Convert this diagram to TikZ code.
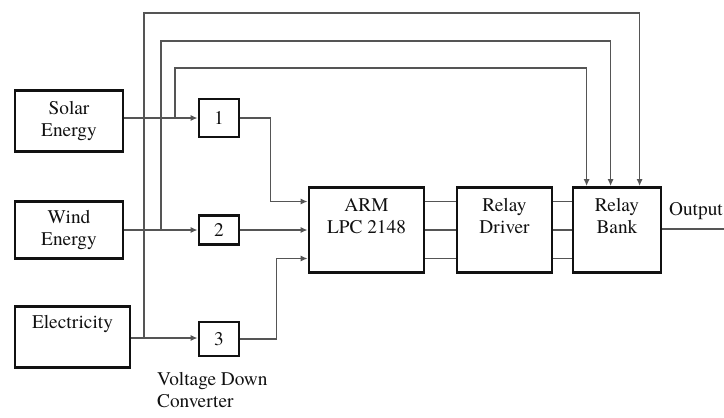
\documentclass[tikz,border=0pt]{standalone}
\usepackage{fontspec}
\setmainfont{TeX Gyre Termes}[Scale=1.0]
\usetikzlibrary{arrows.meta, positioning, calc}
\definecolor{ink}{HTML}{111111}
\definecolor{wire}{HTML}{555555}
\tikzset{
  font=\rmfamily\fontsize{11}{12.5}\selectfont,
  >={Latex[length=4pt, width=3.5pt]},
  %
  block/.style={draw=ink, line width=1.6pt, fill=white, align=center,
                text=ink, inner sep=2pt},
  conv/.style={block, minimum width=8mm},
  %
  wireline/.style={draw=wire, line width=1pt},
  flow/.style={wireline, ->},
  lbl/.style={text=ink, align=left, inner sep=1pt},
}
\begin{document}
\begin{tikzpicture}[x=0.02cm, y=-0.02cm]
  \useasboundingbox (0,0) rectangle (724,417);

  % --- energy sources -----------------------------------------------------
  \node[block, minimum width=21.6mm, minimum height=12.2mm] (solar) at (69,121) {Solar\\Energy};
  \node[block, minimum width=21.6mm, minimum height=11.4mm] (wind) at (69,230) {Wind\\Energy};
  \node[block, minimum width=23mm, minimum height=12.2mm] (elec) at (72.5,337) {Electricity\\[1pt]\strut};

  % --- voltage down converters --------------------------------------------
  \node[conv, minimum height=7.6mm] (one) at (219,118) {1};
  \node[conv, minimum height=5.8mm] (two) at (219,230) {2};
  \node[conv, minimum height=6.8mm] (three) at (219,339) {3};
  \node[lbl, anchor=north west] (vdc) at (155,370) {Voltage Down\\Converter};

  % --- controller and relays ----------------------------------------------
  \node[block, minimum width=23mm, minimum height=17mm] (arm) at (366.5,230) {ARM\\LPC 2148\\\strut};
  \node[block, minimum width=19mm, minimum height=17mm] (driver) at (504.5,230) {Relay\\Driver\\\strut};
  \node[block, minimum width=17.6mm, minimum height=17mm] (bank) at (617,230) {Relay\\Bank\\\strut};

  % --- junctions and corners ----------------------------------------------
  \coordinate (j1) at (175,118);
  \coordinate (j2) at (161,230);
  \coordinate (j3) at (144,338);
  \coordinate (top1) at (400,68);
  \coordinate (top2) at (400,41);
  \coordinate (top3) at (400,13);
  \coordinate (outend) at (724,229);

  % --- sources into converters --------------------------------------------
  \draw[flow] (solar.east |- one.west) -- (one.west);
  \draw[flow] (wind.east) -- (two.west);
  \draw[flow] (elec.east |- j3) -- (three.west |- j3);

  % --- direct feeds to the relay bank -------------------------------------
  \draw[flow] (j1) |- (top1) -| ([xshift=3mm]bank.north west);
  \draw[flow] (j2) |- (top2) -| ([xshift=7.8mm]bank.north west);
  \draw[flow] (j3) |- (top3) -| ([xshift=13.6mm]bank.north west);

  % --- converters into the controller -------------------------------------
  \draw[flow] (one.east) -- ++(30,0) |- ([yshift=5.7mm]arm.west);
  \draw[flow] (two.east) -- (arm.west);
  \draw[flow] (three.east) -- ++(36,0) |- ([yshift=-5.7mm]arm.west);

  % --- controller to relays -----------------------------------------------
  \foreach \dy in {5.7mm, 0mm, -5.7mm} {
    \draw[wireline] ([yshift=\dy]arm.east) -- ([yshift=\dy]driver.west);
    \draw[wireline] ([yshift=\dy]driver.east) -- ([yshift=\dy]bank.west);
  }

  \draw[wireline] (bank.east |- outend) -- (outend);
  \node[lbl, anchor=south west] (outlbl) at (667,222) {Output};

\end{tikzpicture}
\end{document}
